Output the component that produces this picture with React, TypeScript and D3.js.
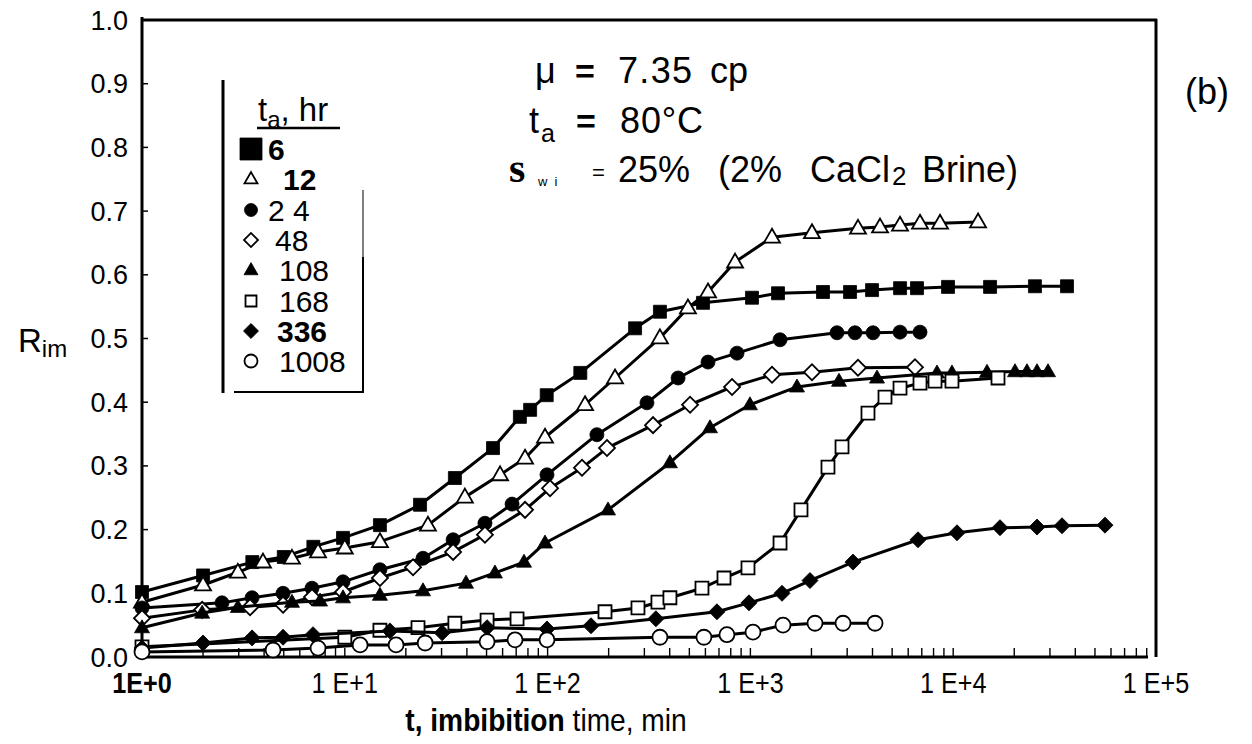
import React from "react";
import * as d3 from "d3";

// ---------- data ----------
const legendLabels = ["6", "12", "2 4", "48", "108", "168", "336", "1008"];

const t6 = [1, 2.0, 3.5, 5.0, 7.0, 9.8, 14.9, 23.5, 34.9, 53.8, 73, 82, 99, 145, 270, 358, 584, 1018, 1368, 2280, 3100, 3980, 5470, 6630, 9430, 15200, 25300, 36400];
const r6 = [0.102, 0.128, 0.149, 0.157, 0.173, 0.187, 0.207, 0.239, 0.281, 0.328, 0.377, 0.388, 0.411, 0.446, 0.516, 0.542, 0.556, 0.564, 0.571, 0.573, 0.573, 0.576, 0.579, 0.579, 0.581, 0.581, 0.582, 0.582];

const t12 = [1, 2.0, 2.97, 3.95, 5.49, 7.38, 10.0, 14.9, 25.7, 39.1, 58.3, 77.4, 97.1, 153, 215, 358, 492, 618, 840, 1278, 2012, 3393, 4357, 5467, 6860, 8610, 13260];
const r12 = [0.086, 0.113, 0.133, 0.149, 0.155, 0.165, 0.171, 0.181, 0.207, 0.251, 0.286, 0.312, 0.345, 0.396, 0.438, 0.501, 0.548, 0.573, 0.62, 0.659, 0.666, 0.673, 0.675, 0.678, 0.681, 0.681, 0.683];

const t24 = [1, 2.48, 3.49, 4.96, 6.89, 9.8, 14.9, 24.3, 34.2, 49.1, 66.8, 99.3, 175, 309, 440, 618, 859, 1400, 2673, 3280, 4023, 5467, 6860];
const r24 = [0.077, 0.085, 0.093, 0.1, 0.108, 0.118, 0.137, 0.155, 0.184, 0.21, 0.24, 0.286, 0.349, 0.399, 0.438, 0.463, 0.477, 0.498, 0.509, 0.509, 0.509, 0.51, 0.51];

const t48 = [1, 1.98, 3.41, 4.96, 6.89, 9.8, 14.9, 21.7, 34.2, 49.1, 77.4, 102.8, 147.8, 196.3, 331, 504, 812, 1278, 2012, 3393, 6480];
const r48 = [0.061, 0.074, 0.078, 0.082, 0.094, 0.102, 0.124, 0.141, 0.165, 0.192, 0.231, 0.265, 0.297, 0.328, 0.364, 0.396, 0.424, 0.443, 0.447, 0.454, 0.455];

const t108 = [1, 1.98, 2.97, 5.49, 7.55, 9.8, 14.9, 24.3, 39.6, 55.0, 76.5, 97.1, 198.6, 401, 632, 995, 1697, 2735, 4210, 8320, 9860, 14680, 20170, 23110, 25900, 29350];
const r108 = [0.046, 0.069, 0.078, 0.086, 0.088, 0.093, 0.097, 0.104, 0.116, 0.132, 0.149, 0.179, 0.231, 0.305, 0.36, 0.396, 0.424, 0.433, 0.438, 0.446, 0.446, 0.447, 0.448, 0.448, 0.448, 0.448];

const t168 = [1, 10.0, 14.9, 22.96, 34.9, 50.3, 70.7, 191.9, 279, 350, 401, 577, 741, 973, 1400, 1776, 2413, 2830, 3800, 4610, 5467, 6860, 8135, 9860, 16630];
const r168 = [0.016, 0.031, 0.042, 0.046, 0.053, 0.058, 0.06, 0.071, 0.077, 0.086, 0.093, 0.108, 0.124, 0.14, 0.179, 0.231, 0.298, 0.33, 0.383, 0.408, 0.422, 0.43, 0.433, 0.433, 0.438];

const t336 = [1, 2.0, 3.49, 4.96, 6.97, 16.7, 30.2, 50.3, 99.3, 163.7, 342, 684, 984, 1432, 1967, 3205, 6707, 10440, 17010, 25900, 34400, 56030];
const r336 = [0.014, 0.022, 0.03, 0.031, 0.035, 0.041, 0.038, 0.046, 0.044, 0.049, 0.06, 0.071, 0.085, 0.1, 0.12, 0.149, 0.184, 0.195, 0.203, 0.204, 0.206, 0.207];

const t1008 = [1, 4.43, 7.38, 11.9, 17.9, 24.9, 50.3, 69.1, 99.3, 358, 590, 766, 1030, 1448, 2082, 2862, 4117];
const r1008 = [0.008, 0.011, 0.014, 0.019, 0.019, 0.022, 0.024, 0.027, 0.027, 0.031, 0.031, 0.035, 0.039, 0.05, 0.053, 0.053, 0.053];

const xTickValues = [1, 10, 100, 1000, 10000, 100000];
const xTickLabels = ["1E+0", "1 E+1", "1 E+2", "1 E+3", "1 E+4", "1 E+5"];
const yTickValues = [0, 0.1, 0.2, 0.3, 0.4, 0.5, 0.6, 0.7, 0.8, 0.9, 1.0];

// ---------- styling ----------
type Shape = "square" | "triangle" | "circle" | "diamond";
const seriesStyle: { shape: Shape; filled: boolean; size: number; lsize: number; bold: boolean; tx: number }[] = [
  { shape: "square", filled: true, size: 13, lsize: 22, bold: true, tx: 268 },
  { shape: "triangle", filled: false, size: 16, lsize: 13, bold: true, tx: 283 },
  { shape: "circle", filled: true, size: 14, lsize: 13, bold: false, tx: 268 },
  { shape: "diamond", filled: false, size: 16, lsize: 14, bold: false, tx: 275 },
  { shape: "triangle", filled: true, size: 15, lsize: 14, bold: false, tx: 279 },
  { shape: "square", filled: false, size: 13, lsize: 11, bold: false, tx: 279 },
  { shape: "diamond", filled: true, size: 16, lsize: 15, bold: true, tx: 277 },
  { shape: "circle", filled: false, size: 15, lsize: 13, bold: false, tx: 279 },
];

const allT = [t6, t12, t24, t48, t108, t168, t336, t1008];
const allR = [r6, r12, r24, r48, r108, r168, r336, r1008];

const legendY = [149, 179, 210, 240, 270, 301, 331, 361];

const FONT = "'Liberation Sans', Arial, Helvetica, sans-serif";

function markerPath(shape: Shape, w: number): string {
  if (shape === "square") return d3.symbol(d3.symbolSquare, w * w)() as string;
  if (shape === "circle") return d3.symbol(d3.symbolCircle, Math.PI * (w / 2) * (w / 2))() as string;
  if (shape === "diamond") return d3.symbol(d3.symbolSquare, (w * w) / 2)() as string;
  return d3.symbol(d3.symbolTriangle, (Math.sqrt(3) / 4) * w * w)() as string;
}

function Marker({ shape, filled, w, cx, cy }: { shape: Shape; filled: boolean; w: number; cx: number; cy: number }) {
  const rot = shape === "diamond" ? " rotate(45)" : "";
  const dy = shape === "triangle" ? w * 0.05 : 0;
  return (
    <path
      d={markerPath(shape, w)}
      transform={`translate(${cx},${cy + dy})${rot}`}
      fill={filled ? "#000" : "#fff"}
      stroke="#000"
      strokeWidth={filled ? 0.8 : 1.8}
    />
  );
}

export default function App() {
  const x = d3.scaleLog().domain([1, 1e5]).range([142, 1156]);
  const y = d3.scaleLinear().domain([0, 1]).range([657, 20]);
  const line = d3
    .line<[number, number]>()
    .x((d) => x(d[0]))
    .y((d) => y(d[1]));
  const minorTicks = x.ticks();

  return (
    <svg width={1252} height={744} style={{ display: "block", position: "absolute", left: 0, top: 0, background: "#fff" }} fontFamily={FONT}>
      <rect x={0} y={0} width={1252} height={744} fill="#fff" />
      {/* frame */}
      <line x1={142} y1={20} x2={1157} y2={20} stroke="#000" strokeWidth={3} />
      <line x1={1156} y1={19} x2={1156} y2={657} stroke="#000" strokeWidth={3} />
      <line x1={142} y1={17} x2={142} y2={658} stroke="#000" strokeWidth={3} />
      <line x1={141} y1={657} x2={1148} y2={657} stroke="#000" strokeWidth={3} />

      {/* x ticks */}
      {minorTicks.map((v, i) => (
        <line key={"xt" + i} x1={x(v)} x2={x(v)} y1={657} y2={648} stroke="#000" strokeWidth={1.4} />
      ))}
      {xTickValues.map((v, i) => (
        <text
          key={"xl" + i}
          transform={`translate(${x(v)},693) scale(0.84,1)`}
          fontSize={30}
          textAnchor="middle"
          fontWeight={i === 0 ? "bold" : "normal"}
        >
          {xTickLabels[i]}
        </text>
      ))}

      {/* y ticks */}
      {yTickValues.map((v, i) => (
        <g key={"yt" + i}>
          <line x1={142} x2={148} y1={y(v)} y2={y(v)} stroke="#000" strokeWidth={1.5} />
          <text x={128} y={y(v) + 9.5} fontSize={27} textAnchor="end">
            {d3.format(".1f")(v)}
          </text>
        </g>
      ))}

      {/* axis titles */}
      <text x={18} y={352} fontSize={33}>
        R<tspan fontSize={24} dy={5}>im</tspan>
      </text>
      <text transform="translate(546,731) scale(0.88,1)" fontSize={32} textAnchor="middle">
        <tspan fontWeight="bold">t, imbibition</tspan>
        <tspan> time,  min</tspan>
      </text>
      <text x={1185} y={104} fontSize={36}>(b)</text>

      {/* annotation */}
      <text x={535} y={83} fontSize={36}>μ</text>
      <text x={575} y={83} fontSize={34} fontWeight="bold">=</text>
      <text x={618} y={83} fontSize={36} textLength={74} lengthAdjust="spacing">7.35</text>
      <text x={710} y={83} fontSize={36}>cp</text>

      <text x={529} y={133} fontSize={36}>t</text>
      <text x={541} y={142} fontSize={25}>a</text>
      <text x={576} y={133} fontSize={34} fontWeight="bold">=</text>
      <text x={620} y={133} fontSize={36} textLength={83} lengthAdjust="spacing">80°C</text>

      <text x={509} y={182} fontSize={42} fontWeight="bold" fontFamily="'Liberation Serif', 'DejaVu Serif', serif">s</text>
      <text x={538} y={186} fontSize={13} letterSpacing={7}>wi</text>
      <text x={592} y={180} fontSize={22}>=</text>
      <text x={618} y={182} fontSize={36} wordSpacing={18}>25% (2% CaCl</text>
      <text x={892} y={185} fontSize={26}>2</text>
      <text x={922} y={182} fontSize={36}>Brine)</text>

      {/* legend */}
      <line x1={223} y1={80} x2={223} y2={393} stroke="#000" strokeWidth={3} />
      <line x1={234} y1={392} x2={364} y2={392} stroke="#000" strokeWidth={2} />
      <line x1={363} y1={190} x2={363} y2={392} stroke="#000" strokeWidth={1} />
      <line x1={363} y1={257} x2={363} y2={392} stroke="#000" strokeWidth={2} />
      <text x={258} y={121} fontSize={33}>
        t<tspan fontSize={24} dy={7}>a</tspan>
        <tspan dy={-7}>,  hr</tspan>
      </text>
      <line x1={257} y1={128} x2={340} y2={128} stroke="#000" strokeWidth={2.5} />
      {legendLabels.map((lab, i) => {
        const s = seriesStyle[i];
        return (
          <g key={"lg" + i}>
            <Marker shape={s.shape} filled={s.filled} w={s.lsize} cx={251} cy={legendY[i]} />
            <text x={s.tx} y={legendY[i] + 11} fontSize={30} fontWeight={s.bold ? "bold" : "normal"}>
              {lab}
            </text>
          </g>
        );
      })}

      {/* series */}
      {allT.map((ts, si) => {
        const pts: [number, number][] = ts.map((t, j) => [t, allR[si][j]]);
        const s = seriesStyle[si];
        return (
          <g key={"s" + si}>
            <path d={line(pts) as string} fill="none" stroke="#000" strokeWidth={3} strokeLinejoin="round" />
            {pts.map((p, j) => (
              <Marker key={j} shape={s.shape} filled={s.filled} w={s.size} cx={x(p[0])} cy={y(p[1])} />
            ))}
          </g>
        );
      })}
    </svg>
  );
}
